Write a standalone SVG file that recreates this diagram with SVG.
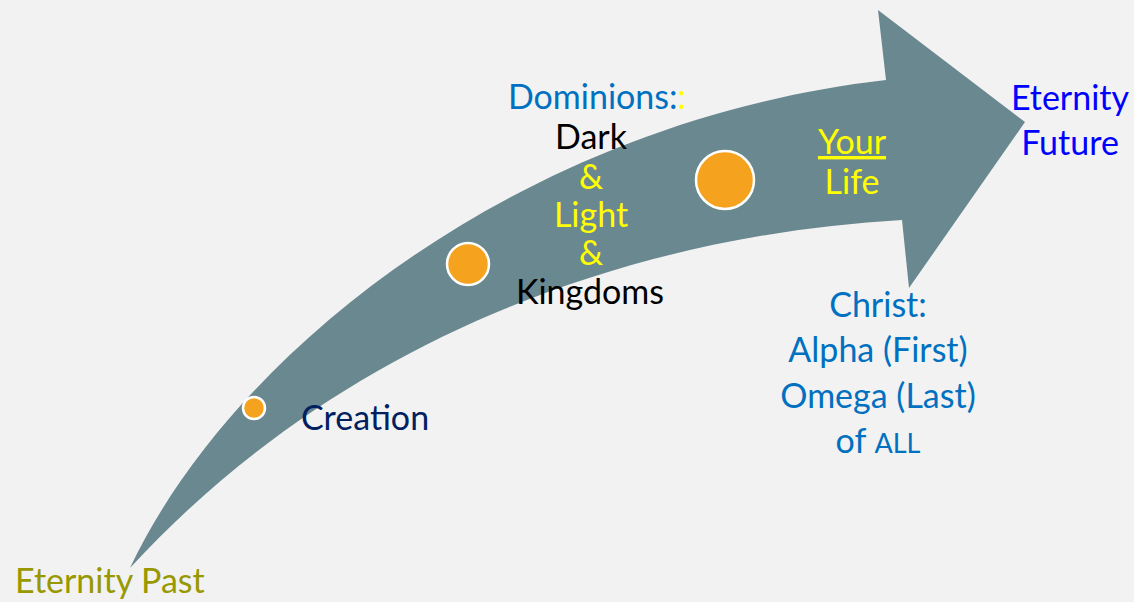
<svg xmlns="http://www.w3.org/2000/svg" width="1134" height="602" viewBox="0 0 1134 602">
<style>
text{font-family:Lato,"Liberation Sans",sans-serif;font-size:34px}
.c{text-anchor:middle}
.blue{fill:#0070C0}
.yel{fill:#FFFF00}
.blk{fill:#000000}
.dot{fill:#F5A31F;stroke:#FFFFFF;stroke-width:2.5}
</style>
<rect width="1134" height="602" fill="#F2F2F2"/>
<g id="arrow">
<path d="M130,568 C232,352 520,122 886,80 L878,10 L1025,122 L909,288 L902,220 C620,236 335,345 130,568 Z" fill="#6A8890"/>
</g>
<g id="dots">
<circle class="dot" cx="254" cy="408" r="11"/>
<circle class="dot" cx="468" cy="264" r="21"/>
<circle class="dot" cx="725" cy="180" r="29"/>
</g>
<g id="creation"><text x="301" y="430" fill="#002060">Creation</text></g>
<g id="past"><text x="15" y="593" fill="#989800">Eternity Past</text></g>
<g id="dominions">
<text class="c" x="597" y="109"><tspan class="blue">Dominions:</tspan><tspan class="yel">:</tspan></text>
<text class="c blk" x="591" y="149">Dark</text>
<text class="c yel" x="591" y="189">&amp;</text>
<text class="c yel" x="591" y="227">Light</text>
<text class="c yel" x="591" y="265">&amp;</text>
<text class="c blk" x="590" y="304">Kingdoms</text>
</g>
<g id="yourlife">
<text class="c yel" x="852" y="154" text-decoration="underline">Your</text>
<text class="c yel" x="852" y="194">Life</text>
</g>
<g id="future">
<text class="c" x="1070" y="110" fill="#0000FF">Eternity</text>
<text class="c" x="1070" y="155" fill="#0000FF">Future</text>
</g>
<g id="christ">
<text class="c blue" x="878" y="317">Christ:</text>
<text class="c blue" x="878" y="362">Alpha (First)</text>
<text class="c blue" x="878" y="408">Omega (Last)</text>
<text class="c blue" x="878" y="453">of <tspan font-size="27">ALL</tspan></text>
</g>
</svg>
